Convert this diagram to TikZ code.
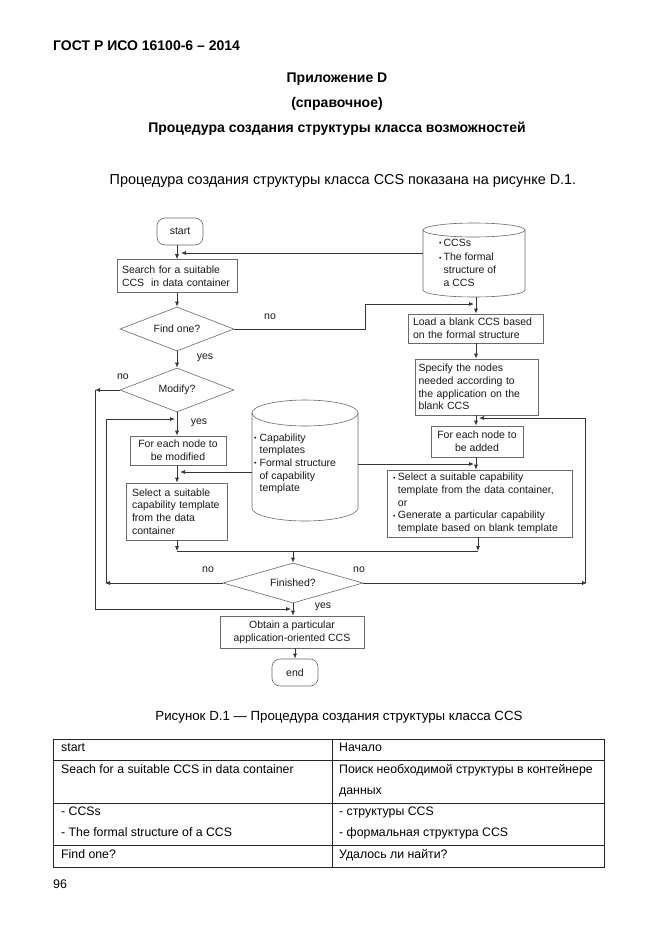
\documentclass[tikz,border=0pt]{standalone}
\usepackage{fontspec}
\setmainfont{Liberation Sans}
\usetikzlibrary{shapes.geometric,arrows.meta}
\definecolor{linecol}{HTML}{353535}
\definecolor{boxcol}{HTML}{6A6A6A}
\definecolor{txtcol}{HTML}{1A1A1A}
\newcommand\flf{\fontsize{10.5}{12.7}\selectfont}
\newcommand\bul{{\fontsize{7}{7}\selectfont\raisebox{0.6pt}{•}}}
\begin{document}
\begin{tikzpicture}[x=1pt,y=-1pt,
  box/.style={draw=boxcol,line width=0.6pt,inner sep=0pt,font=\flf,align=center,text=txtcol},
  lbox/.style={box,align=left},
  term/.style={box,rounded corners=8pt},
  dia/.style={diamond,draw=boxcol,line width=0.6pt,inner sep=0pt,aspect=2.5,font=\flf,text=txtcol},
  conn/.style={draw=linecol,line width=0.75pt},
  arr/.style={conn,-{Latex[length=5pt,width=4pt]}},
  lab/.style={font=\flf,inner sep=0pt,text=txtcol},
  cyl/.style={draw=boxcol,line width=0.6pt},
  cyltxt/.style={font=\flf,inner sep=0pt,anchor=north west,align=left,text=txtcol},
  tab/.style={draw=black!85,line width=0.8pt},
  hdr/.style={font=\fontsize{14}{16}\selectfont\bfseries,inner sep=0pt,anchor=base},
  body/.style={font=\fontsize{14.4}{17}\selectfont,inner sep=0pt,anchor=base},
  cell/.style={font=\fontsize{12.3}{14}\selectfont,inner sep=0pt,anchor=base west}
]
\useasboundingbox (0,0) rectangle (661,935);
\fill[white] (0,0) rectangle (661,935);

% ---------- page text ----------
\node[hdr,anchor=base west] (gost) at (53,50.7) {ГОСТ Р ИСО 16100-6 – 2014};
\node[hdr] (app) at (337,82.7) {Приложение D};
\node[hdr] (ref) at (337,107.5) {(справочное)};
\node[hdr] (ttl) at (337,132.7) {Процедура создания структуры класса возможностей};
\node[body] (intro) at (343,184.9) {Процедура создания структуры класса CCS показана на рисунке D.1.};

% ---------- flowchart nodes ----------
\node[term,minimum width=46pt,minimum height=27pt] (start) at (180,231.5) {start};
\node[lbox,minimum width=120pt,minimum height=33pt,text width=110pt] (search) at (177,276) {\mbox{Search for a suitable}\\\mbox{CCS\ \ in data container}};
\node[dia,minimum width=114pt,minimum height=44pt] (find) at (177,329) {Find one?};
\node[dia,minimum width=114pt,minimum height=44pt] (modify) at (177,390) {Modify?};
\node[box,minimum width=96pt,minimum height=29pt] (modified) at (178,450.5) {For each node to\\be modified};
\node[lbox,minimum width=101pt,minimum height=57pt,text width=89pt] (select1) at (176.5,511.5) {\mbox{Select a suitable}\\\mbox{capability template}\\\mbox{from the data}\\\mbox{container}};

\node[lbox,minimum width=135pt,minimum height=29pt,text width=125pt] (load) at (475.5,328.5) {\mbox{Load a blank CCS based}\\\mbox{on the formal structure}};
\node[lbox,minimum width=123pt,minimum height=56pt,text width=116pt] (specify) at (476.5,387) {\mbox{Specify the nodes}\\\mbox{needed according to}\\\mbox{the application on the}\\\mbox{blank CCS}};
\node[box,minimum width=92pt,minimum height=31pt] (added) at (477,441.5) {For each node to\\be added};
\node[lbox,minimum width=185pt,minimum height=67pt,text width=173pt] (select2) at (479.5,503.5) {\begin{tabular}{@{}l@{\hspace{2.5pt}}l@{}}\bul & Select a suitable capability\\ & template from the data container,\\ & or\\ \bul & Generate a particular capability\\ & template based on blank template\end{tabular}};

\node[dia,minimum width=140pt,minimum height=40pt] (finished) at (293,583) {Finished?};
\node[box,minimum width=144pt,minimum height=32pt] (obtain) at (292,632) {Obtain a particular\\application-oriented CCS};
\node[term,minimum width=46pt,minimum height=27pt] (end) at (295,672.5) {end};

% ---------- cylinders ----------
% CCSs store
\draw[cyl] (474,230) ellipse [x radius=51, y radius=7];
\draw[cyl] (423,230) -- (423,290) .. controls (423,293.9) and (445.8,297) .. (474,297)
  .. controls (502.2,297) and (525,293.9) .. (525,290) -- (525,230);
\node[cyltxt] (ccstxt) at (439,237) {\begin{tabular}{@{}l@{\hspace{2pt}}l@{}}\bul & CCSs\\[2pt] \bul & The formal\\ & structure of\\ & a CCS\end{tabular}};
\coordinate (ccsleft) at (423,253);
\coordinate (ccsbot) at (476,297);

% capability templates store
\draw[cyl] (305,413) ellipse [x radius=53, y radius=13];
\draw[cyl] (252,413) -- (252,508) .. controls (252,515.2) and (275.7,521) .. (305,521)
  .. controls (334.3,521) and (358,515.2) .. (358,508) -- (358,413);
\node[cyltxt] (captxt) at (254,432) {\begin{tabular}{@{}l@{\hspace{3pt}}l@{}}\bul & Capability\\ & templates\\ \bul & Formal structure\\ & of capability\\ & template\end{tabular}};
\coordinate (capleft) at (252,472);
\coordinate (capright) at (358,464);

% ---------- connectors ----------
\draw[arr] (search.north |- start.south) -- (search.north);
\coordinate (tipA) at (181,253);
\draw[arr] (ccsleft) -- (tipA);
\draw[arr] (find.north |- search.south) -- (find.north);
\coordinate (nA) at (365,329);
\coordinate (nB) at (365,304);
\coordinate (tipB) at (474,304);
\draw[arr] (find.east) -- (nA) -- (nB) -- (tipB);
\draw[arr] (ccsbot) -- (load.north -| ccsbot);
\draw[arr] (load.south -| ccsbot) -- (specify.north -| ccsbot);
\draw[arr] (specify.south -| ccsbot) -- (added.north -| ccsbot);
\coordinate (rA) at (585,583);
\coordinate (rB) at (585,418);
\coordinate (tipC) at (479,418);
\draw[arr] (rA) -- (rB) -- (tipC);
\draw[arr] (added.south -| ccsbot) -- (select2.north -| ccsbot);
\coordinate (tipD) at (474,464);
\draw[arr] (capright) -- (tipD);
\coordinate (jR) at (478,551);
\coordinate (jL) at (177,551);
\coordinate (jM) at (293,551);
\draw[arr] (select2.south -| jR) -- (jR);
\draw[conn] (jL) -- (jR);
\draw[arr] (jM) -- (finished.north);

\draw[arr] (find.south) -- (modify.north);
\coordinate (lA) at (95,390);
\coordinate (lB) at (95,609);
\coordinate (tipE) at (291,609);
\draw[arr] (modify.west) -- (lA);
\draw[arr] (lA) -- (lB) -- (tipE);
\draw[arr] (modify.south) -- (modified.north -| modify.south);
\coordinate (iA) at (106,583);
\coordinate (iB) at (106,419);
\coordinate (tipF) at (175,419);
\draw[arr] (iA) -- (iB) -- (tipF);
\draw[arr] (modified.south -| jL) -- (select1.north -| jL);
\coordinate (tipG) at (180,472);
\draw[arr] (capleft) -- (tipG);
\draw[arr] (select1.south -| jL) -- (jL);

\coordinate (tipH) at (105,583);
\coordinate (tipI) at (587,583);
\draw[arr] (finished.west) -- (tipH);
\draw[arr] (finished.east) -- (tipI);
\draw[arr] (finished.south) -- (obtain.north -| finished.south);
\draw[arr] (obtain.south -| end.north) -- (end.north);

% ---------- labels ----------
\node[lab] (l1) at (270,317) {no};
\node[lab] (l2) at (205,358) {yes};
\node[lab] (l3) at (123,377) {no};
\node[lab] (l4) at (199,423) {yes};
\node[lab] (l5) at (208,570) {no};
\node[lab] (l6) at (359,570) {no};
\node[lab] (l7) at (323,607) {yes};

% ---------- caption and table ----------
\node[font=\fontsize{13.3}{15}\selectfont,inner sep=0pt,anchor=base] (cap) at (339,720.5) {Рисунок D.1 — Процедура создания структуры класса CCS};
\draw[tab] (53,739) rectangle (604,867);
\draw[tab] (332,739) -- (332,867);
\draw[tab] (53,760) -- (604,760);
\draw[tab] (53,803) -- (604,803);
\draw[tab] (53,845) -- (604,845);
\node[cell] (c11) at (61,751.5) {start};
\node[cell] (c12) at (339,751.5) {Начало};
\node[cell] (c21) at (61,773.5) {Seach for a suitable CCS in data container};
\node[cell] (c22) at (339,773.5) {Поиск необходимой структуры в контейнере};
\node[cell] (c22b) at (339,794.5) {данных};
\node[cell] (c31) at (61,815.5) {- CCSs};
\node[cell] (c31b) at (61,836.5) {- The formal structure of a CCS};
\node[cell] (c32) at (339,815.5) {- структуры CCS};
\node[cell] (c32b) at (339,836.5) {- формальная структура CCS};
\node[cell] (c41) at (61,858.5) {Find one?};
\node[cell] (c42) at (339,858.5) {Удалось ли найти?};
\node[font=\fontsize{12.5}{14}\selectfont,inner sep=0pt,anchor=base west] (pg) at (53,888.5) {96};
\end{tikzpicture}
\end{document}
